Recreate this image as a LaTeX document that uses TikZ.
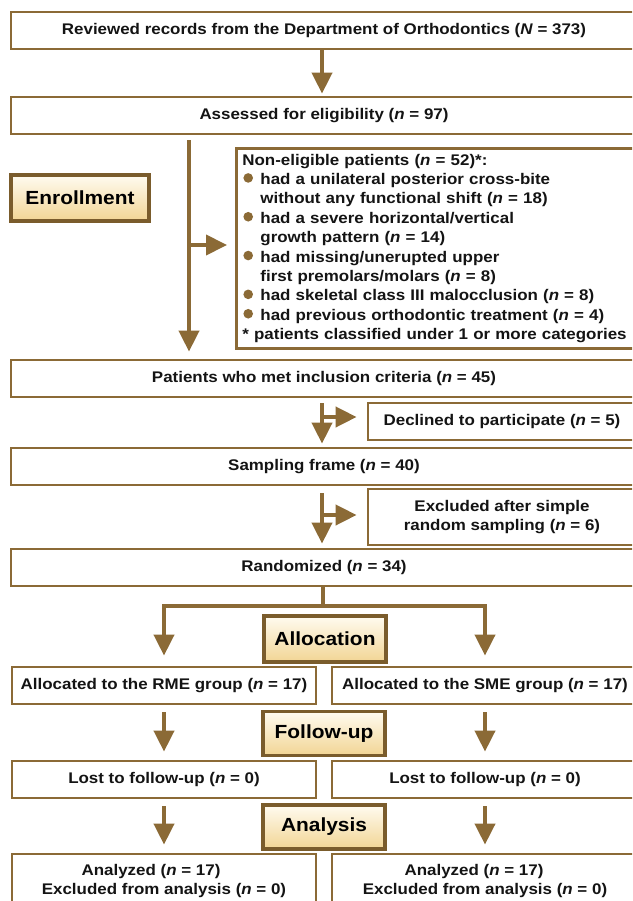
\documentclass[tikz,border=0pt]{standalone}
\usepackage{fontspec}
\setmainfont{Liberation Sans}[FakeStretch=1.1]
\usetikzlibrary{arrows.meta,shadows}
\definecolor{brn}{RGB}{139,106,54}
\definecolor{brd}{RGB}{122,92,44}
\definecolor{ctop}{RGB}{255,251,240}
\definecolor{cbot}{RGB}{242,213,148}
\definecolor{txt}{RGB}{20,20,20}
\newcommand\bul{\tikz[baseline=-6.5pt]\fill[brn] (0pt,0pt) circle (4.8pt);}
\begin{document}
\begin{tikzpicture}[x=1pt,y=-1pt,
 box/.style={draw=brn, line width=2.8pt, fill=white, inner sep=0pt, text=txt,
   font=\fontsize{15.4}{19.4}\selectfont\bfseries, align=center},
 lab/.style={draw=brd, line width=3.5pt, top color=ctop, bottom color=cbot, inner sep=0pt,
   font=\fontsize{19}{22}\selectfont\bfseries, text=black,
   drop shadow={shadow xshift=1.5pt,shadow yshift=-1.5pt,opacity=0.25}},
 arr/.style={draw=brn, line width=4pt, -{Triangle[width=20pt,length=21pt]}},
 ln/.style={draw=brn, line width=4pt}]
\path[use as bounding box] (0,0) rectangle (632,901);
\clip (0,0) rectangle (632,901);

\node[box, minimum width=626pt, minimum height=37pt] (b1) at (324,30.5)
  {Reviewed records from the Department of Orthodontics (\textit{N} = 373)};
\node[box, minimum width=626pt, minimum height=37pt] (b2) at (324,115.5)
  {Assessed for eligibility (\textit{n} = 97)};
\node[lab, minimum width=138pt, minimum height=46pt] (enr) at (80,198) {Enrollment};
\node[box, anchor=north west, text width=420pt, inner xsep=6pt, minimum height=200pt, align=left] (ne) at (235,147)
  {Non-eligible patients (\textit{n} = 52)*:\\
   \makebox[18pt][l]{\hspace{1pt}\bul}had a unilateral posterior cross-bite\\
   \hspace*{18pt}without any functional shift (\textit{n} = 18)\\
   \makebox[18pt][l]{\hspace{1pt}\bul}had a severe horizontal/vertical\\
   \hspace*{18pt}growth pattern (\textit{n} = 14)\\
   \makebox[18pt][l]{\hspace{1pt}\bul}had missing/unerupted upper\\
   \hspace*{18pt}first premolars/molars (\textit{n} = 8)\\
   \makebox[18pt][l]{\hspace{1pt}\bul}had skeletal class III malocclusion (\textit{n} = 8)\\
   \makebox[18pt][l]{\hspace{1pt}\bul}had previous orthodontic treatment (\textit{n} = 4)\\{}%
   * patients classified under 1 or more categories};
\node[box, minimum width=626pt, minimum height=37pt] (b3) at (324,378.5)
  {Patients who met inclusion criteria (\textit{n} = 45)};
\node[box, minimum width=268pt, minimum height=37pt] (dec) at (502,421.5)
  {Declined to participate (\textit{n} = 5)};
\node[box, minimum width=626pt, minimum height=37pt] (b4) at (324,466.5)
  {Sampling frame (\textit{n} = 40)};
\node[box, minimum width=268pt, minimum height=56pt] (exc) at (502,517)
  {Excluded after simple\\random sampling (\textit{n} = 6)};
\node[box, minimum width=626pt, minimum height=37pt] (b5) at (324,567.5)
  {Randomized (\textit{n} = 34)};
\node[lab, minimum width=122pt, minimum height=46pt] (alc) at (325,639) {Allocation};
\node[box, minimum width=304pt, minimum height=37pt] (rme) at (164,685.5)
  {Allocated to the RME group (\textit{n} = 17)};
\node[box, minimum width=306pt, minimum height=37pt] (sme) at (485,685.5)
  {Allocated to the SME group (\textit{n} = 17)};
\node[lab, minimum width=122pt, minimum height=44pt] (fol) at (324,733.5) {Follow-up};
\node[box, minimum width=304pt, minimum height=37pt] (l1) at (164,779.5)
  {Lost to follow-up (\textit{n} = 0)};
\node[box, minimum width=306pt, minimum height=37pt] (l2) at (485,779.5)
  {Lost to follow-up (\textit{n} = 0)};
\node[lab, minimum width=122pt, minimum height=44pt] (ana) at (324,827) {Analysis};
\node[box, minimum width=304pt, minimum height=54pt] (a1) at (164,881)
  {Analyzed (\textit{n} = 17)\hspace*{26pt}\\Excluded from analysis (\textit{n} = 0)};
\node[box, minimum width=306pt, minimum height=54pt] (a2) at (485,881)
  {Analyzed (\textit{n} = 17)\hspace*{22pt}\\Excluded from analysis (\textit{n} = 0)};

\coordinate (sp) at (322,0);
\coordinate (v1) at (189,0);
\draw[arr, shorten >=2pt] (b1.south -| sp) -- (b2.north -| sp);
\draw[arr, shorten <=5pt, shorten >=7pt] (b2.south -| v1) -- (b3.north -| v1);
\coordinate (j1) at (189,245);
\draw[arr, shorten >=8pt] (j1) -- (j1 -| ne.west);
\draw[arr, shorten <=5pt, shorten >=3pt] (b3.south -| sp) -- (b4.north -| sp);
\coordinate (j2) at (322,417);
\draw[arr, shorten >=10pt] (j2) -- (j2 -| dec.west);
\draw[arr, shorten <=7pt, shorten >=4pt] (b4.south -| sp) -- (b5.north -| sp);
\coordinate (j3) at (322,515);
\draw[arr, shorten >=10pt] (j3) -- (j3 -| exc.west);
\coordinate (sp1) at (323,606);
\draw[ln] (b5.south -| sp1) -- (sp1);
\draw[arr, shorten >=10pt] (sp1) -| (rme.north);
\draw[arr, shorten >=10pt] (sp1) -| (sme.north);
\draw[arr, shorten <=7pt, shorten >=8pt] (rme.south) -- (l1.north);
\draw[arr, shorten <=7pt, shorten >=8pt] (sme.south) -- (l2.north);
\draw[arr, shorten <=7pt, shorten >=8pt] (l1.south) -- (a1.north);
\draw[arr, shorten <=7pt, shorten >=8pt] (l2.south) -- (a2.north);
\end{tikzpicture}
\end{document}
